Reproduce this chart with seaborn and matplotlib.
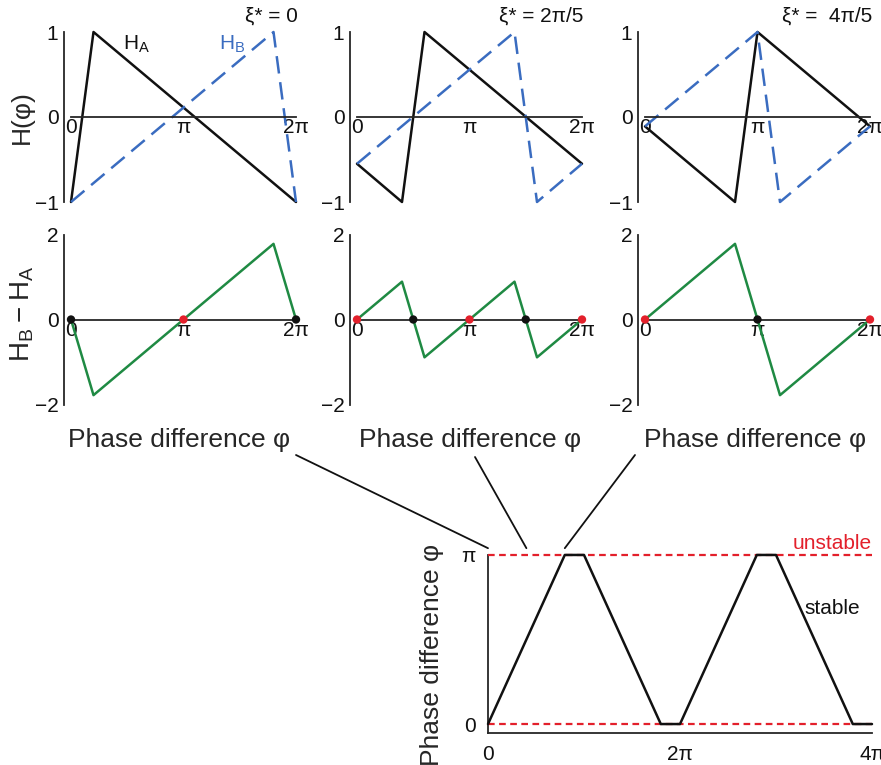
import numpy as np
import matplotlib
matplotlib.use("Agg")
import matplotlib.pyplot as plt
import seaborn as sns
from matplotlib.patches import ConnectionPatch

# all x values below are in units of pi
xi_labels = ["ξ* = 0", "ξ* = 2π/5", "ξ* =  4π/5"]
xi_star = [0.0, 0.4, 0.8]

# H_A (solid black) and H_B (dashed blue) vertices for each xi*
ha_x = [[0, 0.2, 2.0], [0, 0.4, 0.6, 2.0], [0, 0.8, 1.0, 2.0]]
ha_y = [[-1, 1, -1], [-0.55, -1, 1, -0.55], [-0.11, -1, 1, -0.11]]
hb_x = [[0, 1.8, 2.0], [0, 1.4, 1.6, 2.0], [0, 1.0, 1.2, 2.0]]
hb_y = [[-1, 1, -1], [-0.55, 1, -1, -0.55], [-0.11, 1, -1, -0.11]]

# H_B - H_A
d_x = [[0, 0.2, 1.8, 2.0], [0, 0.4, 0.6, 1.4, 1.6, 2.0], [0, 0.8, 1.2, 2.0]]
d_y = [[0, -1.78, 1.78, 0], [0, 0.89, -0.89, 0.89, -0.89, 0], [0, 1.78, -1.78, 0]]

# fixed points
stable_x = [[0, 2.0], [0.5, 1.5], [1.0]]
unstable_x = [[1.0], [0, 1.0, 2.0], [0, 2.0]]

# phase difference over time
t_x = [0, 0.8, 1.0, 1.8, 2.0, 2.8, 3.0, 3.8, 4.0]
phi_y = [0, 1, 1, 0, 0, 1, 1, 0, 0]

sns.set_style("white")
plt.rcParams["font.family"] = ["Liberation Sans", "DejaVu Sans"]
plt.rcParams["axes.linewidth"] = 1.3

PI = np.pi
W, H = 881, 765
black = "#111111"
blue = "#3a6cc0"
green = "#1f8a43"
red = "#e3202b"
TICK = 15
BIG = 19

fig = plt.figure(figsize=(W / 100, H / 100), dpi=100)
fig.patch.set_facecolor("white")


def box(x0, y0, w, h):
    # pixel box (left, top, width, height) -> figure fraction
    return [x0 / W, 1 - (y0 + h) / H, w / W, h / H]


col_x0 = [71, 357, 645]
col_w = 225
label_cx = [179, 470, 755]


def style_top(ax, lim, ticks, labels):
    ax.set_xlim(0, 2 * PI)
    ax.set_ylim(-lim * 1.1, lim * 1.1)
    for s in ["top", "right"]:
        ax.spines[s].set_visible(False)
    ax.spines["bottom"].set_position(("data", 0))
    ax.spines["left"].set_position(("outward", 5))
    ax.spines["left"].set_bounds(-lim, lim)
    ax.set_xticks([0, PI, 2 * PI])
    ax.set_xticklabels(["0", "π", "2π"])
    ax.set_yticks(ticks)
    ax.set_yticklabels(labels)
    ax.tick_params(direction="in", length=4, width=1.2, labelsize=TICK, pad=1,
                   colors=black)
    ax.tick_params(axis="y", pad=4)
    ax.set_xlabel("")
    ax.set_ylabel("")
    ax.set_facecolor("none")


for i in range(3):
    # top row: H_A and H_B
    ax = fig.add_axes(box(col_x0[i], 23.5, col_w, 187))
    sns.lineplot(x=np.array(ha_x[i]) * PI, y=ha_y[i], ax=ax, color=black,
                 lw=1.8, sort=False, clip_on=False)
    sns.lineplot(x=np.array(hb_x[i]) * PI, y=hb_y[i], ax=ax, color=blue,
                 lw=1.8, sort=False, clip_on=False, dashes=False,
                 linestyle=(0, (7, 3.5)))
    style_top(ax, 1, [-1, 0, 1], ["−1", "0", "1"])
    ax.text(2 * PI + 0.05, 1.19, xi_labels[i], ha="right", va="center",
            fontsize=TICK, color=black)
    if i == 0:
        ax.text(0.58 * PI, 0.85, r"$\mathregular{H_A}$", fontsize=TICK,
                color=black, ha="center", va="center")
        ax.text(1.43 * PI, 0.86, r"$\mathregular{H_B}$", fontsize=TICK,
                color=blue, ha="center", va="center")
        fig.text(22 / W, 1 - 117 / H, "H(φ)", rotation=90, ha="center",
                 va="center", fontsize=BIG)

    # middle row: H_B - H_A
    ax2 = fig.add_axes(box(col_x0[i], 226, col_w, 187))
    sns.lineplot(x=np.array(d_x[i]) * PI, y=d_y[i], ax=ax2, color=green,
                 lw=1.8, sort=False, clip_on=False)
    sns.scatterplot(x=np.array(stable_x[i]) * PI, y=[0] * len(stable_x[i]),
                    ax=ax2, color=black, s=36, edgecolor="none", zorder=5,
                    clip_on=False)
    sns.scatterplot(x=np.array(unstable_x[i]) * PI, y=[0] * len(unstable_x[i]),
                    ax=ax2, color=red, s=36, edgecolor="none", zorder=5,
                    clip_on=False)
    style_top(ax2, 2, [-2, 0, 2], ["−2", "0", "2"])
    fig.text(label_cx[i] / W, 1 - 440 / H, "Phase difference φ",
             ha="center", va="center", fontsize=BIG)
    if i == 0:
        fig.text(22 / W, 1 - 314 / H, r"$\mathregular{H_B-H_A}$",
                 rotation=90, ha="center", va="center", fontsize=20)

# bottom panel: phase difference over time
axb = fig.add_axes(box(488, 546.5, 384, 186))
sns.lineplot(x=np.array(t_x) * PI, y=np.array(phi_y) * PI, ax=axb,
             color=black, lw=1.8, sort=False, clip_on=False, zorder=4)
for lvl in [0, PI]:
    axb.axhline(lvl, color=red, lw=1.6, linestyle=(0, (3, 2)), zorder=3)
axb.set_xlim(0, 4 * PI)
axb.set_ylim(-0.05 * PI, 1.05 * PI)
for s in ["top", "right"]:
    axb.spines[s].set_visible(False)
axb.spines["left"].set_bounds(-0.05 * PI, PI)
axb.set_xticks([0, 2 * PI, 4 * PI])
axb.set_xticklabels(["0", "2π", "4π"])
axb.set_yticks([0, PI / 2, PI])
axb.set_yticklabels(["0", "", "π"])
axb.tick_params(direction="in", length=4, width=1.2, labelsize=TICK, pad=9,
                colors=black)
axb.set_xlabel("")
axb.set_ylabel("")
axb.set_facecolor("none")
fig.text(432 / W, 1 - 655 / H, "Phase difference φ", rotation=90,
         ha="center", va="center", fontsize=BIG)
axb.text(4 * PI, 1.07 * PI, "unstable", color=red, fontsize=TICK, ha="right",
         va="center")
axb.text(3.30 * PI, 0.686 * PI, "stable", color=black, fontsize=TICK,
         ha="left", va="center")

# connectors from each xi* column down to the time axis
starts = [(296, 455), (475, 457), (635, 455)]
for (sx, sy), xs in zip(starts, xi_star):
    con = ConnectionPatch(xyA=(sx / W, 1 - sy / H), coordsA="figure fraction",
                          xyB=(xs * PI, 1.04 * PI), coordsB="data", axesB=axb,
                          color=black, lw=1.3)
    fig.add_artist(con)

fig.savefig("out.png", dpi=100, facecolor="white")
